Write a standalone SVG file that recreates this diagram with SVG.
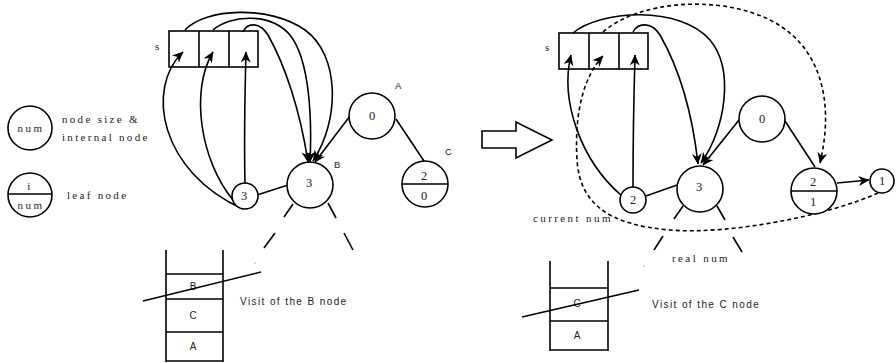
<svg xmlns="http://www.w3.org/2000/svg" width="896" height="363" viewBox="0 0 896 363">
<defs>
<marker id="ah" viewBox="0 0 10 10" refX="9.5" refY="5" markerWidth="11" markerHeight="11" markerUnits="userSpaceOnUse" orient="auto">
<path d="M0,0.5 L10,5 L0,9.5 L3,5 z" fill="#000"/>
</marker>
</defs>
<style>
.ln{fill:none;stroke:#000;stroke-width:1.6}
.ds{fill:none;stroke:#000;stroke-width:1.6;stroke-dasharray:4,3}
.nd{fill:#fff;stroke:#000;stroke-width:1.6}
.num{font-family:"Liberation Serif",serif;font-size:12.5px;text-anchor:middle;fill:#222}
.lab{font-family:"Liberation Sans",sans-serif;font-size:9.5px;fill:#222}
.ser{font-family:"Liberation Serif",serif;font-size:11px;fill:#222;letter-spacing:2.3px}
.vis{font-family:"Liberation Sans",sans-serif;font-size:10px;fill:#222;letter-spacing:1.4px}
.st{font-family:"Liberation Sans",sans-serif;font-size:10px;fill:#222;text-anchor:middle}
</style>
<rect width="896" height="363" fill="#fff"/>

<!-- legend -->
<g id="legend-internal">
<circle class="nd" cx="30" cy="128" r="22"/>
<text class="ser" x="31" y="132" text-anchor="middle" style="letter-spacing:2.5px">num</text>
<text class="ser" x="62" y="123">node size &amp;</text>
<text class="ser" x="62" y="141">internal node</text>
</g>
<g id="legend-leaf">
<circle class="nd" cx="30" cy="195" r="22"/>
<line class="ln" x1="8" y1="194" x2="52" y2="194"/>
<text class="ser" x="30" y="190" text-anchor="middle">i</text>
<text class="ser" x="31" y="209" text-anchor="middle" style="letter-spacing:2.5px">num</text>
<text class="ser" x="67" y="199">leaf node</text>
</g>

<!-- LEFT PANEL -->
<g id="L-array">
<text class="ser" x="155" y="50">s</text>
<rect class="nd" x="169" y="31" width="89" height="36"/>
<line class="ln" x1="199" y1="31" x2="199" y2="67"/>
<line class="ln" x1="229" y1="31" x2="229" y2="67"/>
</g>

<g id="L-connectors">
<path class="ln" d="M243,209 C160,172 145,88 183,52" marker-end="url(#ah)"/>
<path class="ln" d="M233,200 C200,160 190,90 213,52" marker-end="url(#ah)"/>
<path class="ln" d="M245,183 C244,140 245,90 246,52" marker-end="url(#ah)"/>
<path class="ln" d="M185,30 C205,8 270,5 305,30 C340,55 340,120 313,161" marker-end="url(#ah)"/>
<path class="ln" d="M213,30 C230,15 270,12 290,35 C310,60 312,120 310,162" marker-end="url(#ah)"/>
<path class="ln" d="M243,32 C247,22 260,22 268,35 C285,65 300,110 308,162" marker-end="url(#ah)"/>
<line class="ln" x1="350" y1="116" x2="315" y2="162" marker-end="url(#ah)"/>
<line class="ln" x1="396" y1="119" x2="424" y2="161"/>
<line class="ln" x1="257" y1="195" x2="288" y2="185"/>
<line class="ln" x1="293" y1="204" x2="284" y2="217"/>
<line class="ln" x1="328" y1="203" x2="336" y2="218"/>
<line class="ln" x1="275" y1="233" x2="264" y2="248"/>
<line class="ln" x1="344" y1="233" x2="353" y2="250"/>
</g>

<g id="L-nodeA">
<circle class="nd" cx="372" cy="116" r="23"/>
<text class="num" x="372" y="120">0</text>
<text class="lab" x="395" y="89">A</text>
</g>
<g id="L-nodeB">
<circle class="nd" cx="310" cy="185" r="23"/>
<text class="num" x="309" y="187">3</text>
<text class="lab" x="334" y="168">B</text>
</g>
<g id="L-small">
<circle class="nd" cx="245" cy="196" r="13"/>
<text class="num" x="244" y="200">3</text>
</g>
<g id="L-nodeC">
<circle class="nd" cx="425" cy="184" r="23"/>
<line class="ln" x1="402" y1="184" x2="448" y2="184"/>
<text class="num" x="424" y="180">2</text>
<text class="num" x="424" y="200">0</text>
<text class="lab" x="445" y="155">C</text>
</g>
<circle cx="255" cy="263" r="0.6" fill="#666"/>

<g id="L-stack">
<line class="ln" x1="166" y1="250" x2="166" y2="362"/>
<line class="ln" x1="223" y1="250" x2="223" y2="362"/>
<line class="ln" x1="166" y1="274" x2="223" y2="274"/>
<line class="ln" x1="166" y1="299" x2="223" y2="299"/>
<line class="ln" x1="166" y1="332" x2="223" y2="332"/>
<line class="ln" x1="166" y1="361" x2="223" y2="361"/>
<text class="st" x="193" y="290">B</text>
<text class="st" x="193" y="319">C</text>
<text class="st" x="193" y="350">A</text>
<line class="ln" x1="143" y1="301" x2="261" y2="272"/>
<text class="vis" x="240" y="305">Visit of the B node</text>
</g>

<!-- hollow arrow -->
<g id="big-arrow">
<polygon class="nd" points="482,131 516,131 516,122 552,140 516,158 516,148 482,148"/>
</g>

<!-- RIGHT PANEL -->
<g id="R-array">
<text class="ser" x="545" y="51">s</text>
<rect class="nd" x="559" y="33" width="89" height="36"/>
<line class="ln" x1="589" y1="33" x2="589" y2="69"/>
<line class="ln" x1="619" y1="33" x2="619" y2="69"/>
</g>

<g id="R-connectors">
<path class="ln" d="M622,196 C580,160 560,100 571,55" marker-end="url(#ah)"/>
<path class="ln" d="M633,187 C633,140 634,90 635,55" marker-end="url(#ah)"/>
<path class="ln" d="M573,33 C600,10 680,5 710,40 C735,70 725,130 701,163" marker-end="url(#ah)"/>
<path class="ln" d="M633,32 C638,22 652,22 660,35 C680,70 692,110 698,164" marker-end="url(#ah)"/>
<line class="ln" x1="739" y1="120" x2="703" y2="165" marker-end="url(#ah)"/>
<line class="ln" x1="785" y1="121" x2="815" y2="167"/>
<line class="ln" x1="646" y1="196" x2="677" y2="185"/>
<line class="ln" x1="837" y1="183" x2="869" y2="180" marker-end="url(#ah)"/>
<line class="ln" x1="683" y1="206" x2="674" y2="219"/>
<line class="ln" x1="717" y1="206" x2="725" y2="220"/>
<line class="ln" x1="663" y1="236" x2="654" y2="250"/>
<line class="ln" x1="733" y1="237" x2="742" y2="252"/>
<path class="ds" d="M603,32 C640,0 720,-5 770,20 C820,45 835,100 820,163" marker-end="url(#ah)"/>
<path class="ds" d="M878,193 C830,215 730,235 670,230 C610,225 580,205 577,160 C574,110 585,75 603,56" marker-end="url(#ah)"/>
</g>

<g id="R-nodeA">
<circle class="nd" cx="762" cy="119" r="23"/>
<text class="num" x="762" y="123">0</text>
</g>
<g id="R-nodeB">
<circle class="nd" cx="700" cy="189" r="23"/>
<text class="num" x="699" y="191">3</text>
</g>
<g id="R-small">
<circle class="nd" cx="633" cy="200" r="13"/>
<text class="num" x="633" y="204">2</text>
</g>
<g id="R-nodeC">
<circle class="nd" cx="814" cy="191" r="23"/>
<line class="ln" x1="791" y1="191" x2="837" y2="191"/>
<text class="num" x="813" y="186">2</text>
<text class="num" x="813" y="206">1</text>
</g>
<g id="R-node1">
<circle class="nd" cx="882" cy="181" r="12"/>
<text class="num" x="882" y="185">1</text>
</g>
<text class="ser" x="533" y="222" style="letter-spacing:2.4px">current num</text>
<text class="ser" x="672" y="262" style="letter-spacing:2.4px">real num</text>
<circle cx="644" cy="266" r="0.6" fill="#666"/>

<g id="R-stack">
<line class="ln" x1="550" y1="261" x2="550" y2="351"/>
<line class="ln" x1="608" y1="261" x2="608" y2="351"/>
<line class="ln" x1="550" y1="288" x2="608" y2="288"/>
<line class="ln" x1="550" y1="321" x2="608" y2="321"/>
<line class="ln" x1="550" y1="350" x2="608" y2="350"/>
<text class="st" x="577" y="307">C</text>
<text class="st" x="577" y="339">A</text>
<line class="ln" x1="522" y1="317" x2="639" y2="290"/>
<text class="vis" x="652" y="308">Visit of the C node</text>
</g>
</svg>
